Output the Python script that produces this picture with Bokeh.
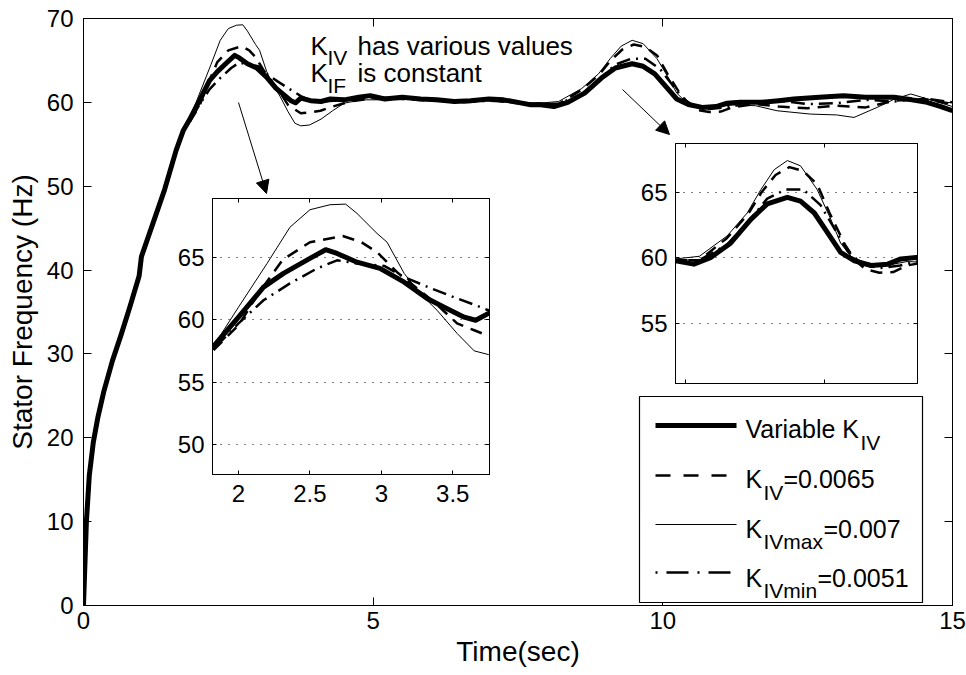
from bokeh.plotting import figure
from bokeh.models import Range1d, LinearAxis, FixedTicker, Label, Arrow, NormalHead, BoxAnnotation
from bokeh.layouts import column
from bokeh.embed import file_html
from bokeh.resources import INLINE

# ---------------- data ----------------
# common start-up ramp (all four runs coincide)
t_rise = [0.0, 0.02, 0.05, 0.1, 0.17, 0.25, 0.35, 0.5, 0.65, 0.8, 0.96, 1.0, 1.2, 1.4, 1.6, 1.72]
f_rise = [0.0, 4.0, 10.0, 15.5, 19.5, 22.5, 25.5, 29.2, 32.3, 35.6, 39.3, 41.6, 45.6, 49.6, 54.3, 56.6]

# Variable K_IV (thick)
t_var = [1.82, 2.0, 2.175, 2.315, 2.5, 2.61, 2.69, 2.83, 2.99, 3.16, 3.32, 3.44, 3.58, 3.66, 3.75,
         3.92, 4.1, 4.26, 4.5, 4.75, 4.95, 5.2, 5.5, 5.82, 6.1, 6.4, 6.68, 7.0, 7.25, 7.5, 7.72,
         7.86, 8.12, 8.36, 8.65, 8.94, 9.18, 9.47, 9.66, 9.86, 10.05, 10.24, 10.44, 10.68, 10.92,
         11.11, 11.33, 11.69, 12.0, 12.26, 12.7, 13.12, 13.5, 13.99, 14.3, 14.56, 14.8, 15.0]
f_var = [57.8, 60.2, 62.6, 63.7, 64.9, 65.6, 65.3, 64.6, 64.1, 63.0, 61.7, 61.0, 60.2, 59.95, 60.5,
         60.2, 60.1, 60.4, 60.3, 60.6, 60.8, 60.4, 60.6, 60.4, 60.3, 60.1, 60.2, 60.4, 60.3, 60.0, 59.7,
         59.75, 59.5, 60.0, 61.1, 62.9, 64.1, 64.6, 64.3, 63.4, 61.9, 60.4, 59.75, 59.4, 59.5,
         59.9, 60.0, 60.0, 60.2, 60.4, 60.6, 60.8, 60.6, 60.6, 60.3, 60.0, 59.5, 59.0]

# K_IV = 0.0065 (dashed)
t_mid = [1.82, 2.0, 2.14, 2.31, 2.5, 2.73, 2.86, 2.97, 3.11, 3.24, 3.38, 3.53, 3.65, 3.75, 3.9,
         4.09, 4.3, 4.6, 5.0, 5.5, 6.0, 6.5, 7.0, 7.5, 7.86, 8.2, 8.6, 8.9, 9.1, 9.3,
         9.5, 9.7, 9.9, 10.08, 10.3, 10.45, 10.6, 10.8, 11.0, 11.2, 11.6, 12.0, 12.5, 13.0, 13.5,
         14.0, 14.5, 15.0]
f_mid = [57.5, 59.55, 62.1, 64.8, 66.2, 66.7, 66.2, 65.4, 63.8, 62.6, 61.3, 59.7, 59.15, 58.7, 58.8,
         59.0, 59.5, 60.1, 60.5, 60.4, 60.2, 60.1, 60.3, 59.9, 59.8, 59.8, 61.5, 63.3, 65.0, 66.3,
         66.9, 66.6, 65.6, 63.4, 61.0, 59.8, 59.1, 58.85, 58.9, 59.4, 59.8, 59.5, 59.3, 59.6, 59.4,
         60.2, 60.4, 59.8]

# K_IVmax = 0.007 (thin)
t_max = [1.82, 2.0, 2.2, 2.36, 2.5, 2.64, 2.75, 2.83, 2.97, 3.04, 3.16, 3.27, 3.39, 3.53, 3.65,
         3.75, 3.9, 4.1, 4.3, 4.5, 4.8, 5.2, 5.8, 6.4, 7.0, 7.5, 7.86, 8.2, 8.6, 8.89,
         9.09, 9.28, 9.47, 9.66, 9.9, 10.1, 10.24, 10.39, 10.6, 10.9, 11.2, 11.6, 11.97, 12.55, 13.0,
         13.3, 13.7, 14.0, 14.28, 14.67, 15.0]
f_max = [57.8, 61.0, 64.5, 67.4, 68.8, 69.2, 69.25, 68.5, 66.9, 66.2, 63.7, 62.1, 60.75, 58.9, 57.5,
         57.2, 57.3, 58.0, 59.0, 59.9, 60.3, 60.3, 60.5, 60.0, 60.2, 59.9, 59.9, 60.1, 61.65, 63.4,
         65.2, 66.7, 67.4, 67.0, 65.2, 62.9, 61.1, 60.1, 59.6, 59.4, 59.7, 59.6, 59.0, 58.6, 58.5,
         58.2, 59.4, 60.4, 61.0, 60.2, 59.5]

# K_IVmin = 0.0051 (dash-dot)
t_min = [1.82, 2.0, 2.175, 2.36, 2.55, 2.69, 2.83, 3.02, 3.16, 3.35, 3.53, 3.66, 3.75, 3.9, 4.1,
         4.5, 5.0, 5.5, 6.0, 6.5, 7.0, 7.5, 7.86, 8.2, 8.6, 8.9, 9.18, 9.45, 9.7, 9.95,
         10.14, 10.34, 10.55, 10.8, 11.1, 11.5, 12.0, 12.5, 13.0, 13.5, 14.0, 14.5, 15.0]
f_min = [57.6, 59.7, 61.55, 62.9, 64.1, 64.75, 64.5, 64.3, 63.4, 62.5, 61.7, 61.15, 60.75, 60.3, 60.1,
         60.3, 60.6, 60.5, 60.3, 60.0, 60.2, 60.0, 59.8, 59.8, 61.0, 62.7, 64.5, 65.2, 65.2, 64.0,
         62.3, 60.5, 59.5, 59.2, 59.4, 59.9, 60.2, 59.8, 59.9, 60.3, 60.1, 60.5, 60.0]

x_ticks = [0, 5, 10, 15]
y_ticks = [0, 10, 20, 30, 40, 50, 60, 70]
inset1_xticks = [2, 2.5, 3, 3.5]
inset1_yticks = [50, 55, 60, 65]
inset2_xticks = [8, 10]
inset2_yticks = [55, 60, 65]

FONT = "Liberation Sans"
BORDER_L, BORDER_R = 83, 14   # same side borders for every figure (column aligns them)

series = [
    (t_rise + t_var, f_rise + f_var, dict(line_width=5)),
    (t_rise + t_mid, f_rise + f_mid, dict(line_width=2.5, line_dash="12 8")),
    (t_rise + t_max, f_rise + f_max, dict(line_width=1)),
    (t_rise + t_min, f_rise + f_min, dict(line_width=2.5, line_dash="14 6 2 6")),
]


def style_axis(ax, ticks, tick_len, font_size="24px", labels=True):
    ax.ticker = FixedTicker(ticks=ticks)
    ax.major_tick_in = tick_len
    ax.major_tick_out = 0
    ax.minor_tick_line_color = None
    ax.axis_line_color = "black"
    ax.major_tick_line_color = "black"
    ax.major_label_text_font = FONT
    ax.major_label_text_color = "black"
    if labels:
        ax.major_label_text_font_size = font_size
    else:
        ax.major_label_text_font_size = "1px"
        ax.major_label_text_color = None
        ax.major_label_standoff = 0


def add_mirror(fig, xt, yt, tick_len):
    top = LinearAxis()
    style_axis(top, xt, tick_len, labels=False)
    fig.add_layout(top, "above")
    right = LinearAxis()
    style_axis(right, yt, tick_len, labels=False)
    fig.add_layout(right, "right")


def draw_series(fig):
    for t, f, kw in series:
        fig.line(t, f, line_color="black", line_join="round", **kw)


# ---------------- main figure ----------------
p = figure(width=966, height=675, output_backend="svg", toolbar_location=None,
           x_range=Range1d(0, 15), y_range=Range1d(0, 70),
           min_border_left=BORDER_L, min_border_right=BORDER_R, min_border_top=18, min_border_bottom=70)
p.grid.visible = False
p.outline_line_color = "black"
p.outline_line_alpha = 1
p.background_fill_color = "white"
p.border_fill_color = "white"

style_axis(p.xaxis[0], x_ticks, 8)
style_axis(p.yaxis[0], y_ticks, 8)
p.xaxis[0].major_label_standoff = 6
p.yaxis[0].major_label_standoff = 10
p.xaxis[0].axis_label = "Time(sec)"
p.yaxis[0].axis_label = "Stator Frequency (Hz)"
for ax in (p.xaxis[0], p.yaxis[0]):
    ax.axis_label_text_font = FONT
    ax.axis_label_text_font_size = "28px"
    ax.axis_label_text_font_style = "normal"
    ax.axis_label_text_color = "black"
p.xaxis[0].axis_label_standoff = 4
p.yaxis[0].axis_label_standoff = 6
add_mirror(p, x_ticks, y_ticks, 8)

draw_series(p)


# helpers: reference pixel position -> main data coordinates (for annotations only)
def X(px):
    return (px - 83) / 869 * 15


def Y(py):
    return (605 - py) / 587 * 70


def txt(px, py, s, size="25px", level="annotation"):
    p.add_layout(Label(x=X(px), y=Y(py), text=s, text_font=FONT, text_font_size=size,
                       text_color="black", text_align="left", text_baseline="alphabetic",
                       level=level))


# annotation text (drawn under the curves, as in the original)
txt(310, 45, "K", "26px", "underlay")
txt(327, 57, "IV", "21px", "underlay")
txt(357, 45, "has various values", "26px", "underlay")
txt(310, 72, "K", "26px", "underlay")
txt(327, 85, "IF", "21px", "underlay")
txt(357, 72, "is constant", "26px", "underlay")

# arrows
for (x0, y0, x1, y1) in [(238, 102, 266, 193), (622, 89, 669, 134)]:
    p.add_layout(Arrow(x_start=X(x0), y_start=Y(y0), x_end=X(x1), y_end=Y(y1),
                       line_color="black", line_width=1,
                       end=NormalHead(size=13, fill_color="black", line_color="black")))

# legend box
p.add_layout(BoxAnnotation(left=X(639), right=X(922), bottom=Y(602), top=Y(396),
                           fill_color="white", fill_alpha=1, line_color="black",
                           line_width=1.2, line_alpha=1))
legend_rows = [
    (425, dict(line_width=5), [(745, 428, "Variable K", "25px"), (860, 442, "IV", "21px")]),
    (475, dict(line_width=2.5, line_dash="15 13"),
     [(745, 478, "K", "25px"), (763, 492, "IV", "21px"), (783, 478, "=0.0065", "25px")]),
    (524, dict(line_width=1),
     [(745, 528, "K", "25px"), (763, 541, "IVmax", "21px"), (823, 528, "=0.007", "25px")]),
    (572, dict(line_width=2.5, line_dash="2 9 22 9"),
     [(745, 577, "K", "25px"), (763, 590, "IVmin", "21px"), (817, 577, "=0.0051", "25px")]),
]
for ly, lkw, texts in legend_rows:
    p.add_layout(Arrow(x_start=X(655), y_start=Y(ly), x_end=X(736), y_end=Y(ly),
                       line_color="black", end=None, **lkw))
    for (px, py, s, size) in texts:
        txt(px, py, s, size)


# ---------------- insets ----------------
def make_inset(xr, yr, xt, yt, frame_w, frame_h, left, top, xlabels):
    mb = 40 if xlabels else 5
    f = figure(width=BORDER_L + frame_w + BORDER_R, height=5 + frame_h + mb, output_backend="svg",
               toolbar_location=None, x_range=Range1d(*xr), y_range=Range1d(*yr),
               min_border_left=BORDER_L, min_border_right=BORDER_R, min_border_top=5,
               min_border_bottom=mb)
    f.outline_line_color = "black"
    f.outline_line_alpha = 1
    f.background_fill_color = "white"
    f.border_fill_color = None
    f.xgrid.visible = False
    f.ygrid.ticker = FixedTicker(ticks=yt)
    f.ygrid.grid_line_color = "black"
    f.ygrid.grid_line_dash = "1 7"
    f.ygrid.grid_line_width = 1
    style_axis(f.xaxis[0], xt, 4, labels=xlabels)
    style_axis(f.yaxis[0], yt, 4)
    f.yaxis[0].major_label_standoff = 8
    if xlabels:
        f.xaxis[0].major_label_standoff = 10
        f.xaxis[0].major_label_overrides = {2: "2", 2.5: "2.5", 3: "3", 3.5: "3.5"}
    add_mirror(f, xt, yt, 4)
    draw_series(f)
    f.styles = {"position": "absolute", "left": f"{left - BORDER_L}px", "top": f"{top - 5}px"}
    return f


p1 = make_inset((1.818, 3.757), (47.6, 69.7), inset1_xticks, inset1_yticks, 277, 276, 212, 198, True)
p2 = make_inset((7.855, 11.35), (50.4, 68.7), inset2_xticks, inset2_yticks, 242, 240, 675, 143, False)

layout = column(p, p1, p2, styles={"position": "relative"})

with open("out.html", "w") as fh:
    fh.write(file_html(layout, INLINE))
